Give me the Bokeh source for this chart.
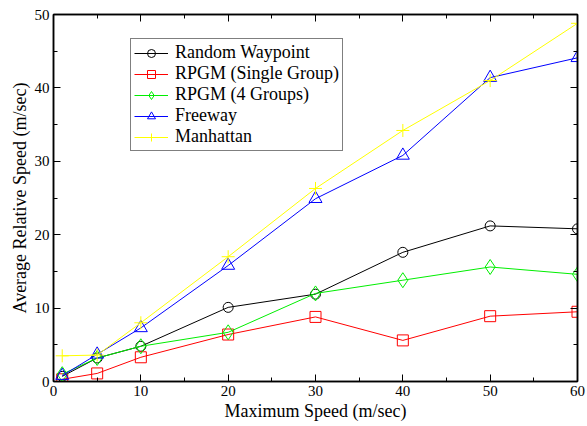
from bokeh.plotting import figure
from bokeh.models import Range1d, SingleIntervalTicker, LinearAxis, Legend, LegendItem, CustomJSTickFormatter
from bokeh.embed import file_html
from bokeh.resources import INLINE

speeds = [1, 5, 10, 20, 30, 40, 50, 60]
random_waypoint = [0.7, 3.2, 4.8, 10.1, 11.9, 17.6, 21.2, 20.8]
rpgm_single = [0.3, 1.1, 3.3, 6.4, 8.8, 5.6, 8.9, 9.5]
rpgm_four = [1.0, 3.2, 4.8, 6.7, 12.0, 13.8, 15.6, 14.6]
freeway = [0.8, 3.7, 7.3, 15.8, 24.9, 30.8, 41.4, 44.1]
manhattan = [3.5, 3.6, 8.0, 17.0, 26.3, 34.2, 41.0, 48.8]

series = [
    ("Random Waypoint", random_waypoint, "black", "circle", 10),
    ("RPGM (Single Group)", rpgm_single, "red", "square", 11),
    ("RPGM (4 Groups)", rpgm_four, "#00ee00", "diamond", 15),
    ("Freeway", freeway, "blue", "triangle", 13),
    ("Manhattan", manhattan, "yellow", "cross", 13),
]

FONT = "Liberation Serif"

p = figure(width=587, height=426, output_backend="svg", toolbar_location=None,
           x_range=Range1d(0, 60), y_range=Range1d(0, 50),
           min_border_left=53, min_border_right=10, min_border_top=14, min_border_bottom=45)
p.xgrid.visible = False
p.ygrid.visible = False
p.outline_line_color = "black"
p.outline_line_width = 1.5

def style_axis(ax, interval, show_labels=True):
    ax.ticker = SingleIntervalTicker(interval=interval, num_minor_ticks=2)
    ax.major_tick_in = 7
    ax.major_tick_out = 0
    ax.minor_tick_in = 4
    ax.minor_tick_out = 0
    ax.axis_line_color = "black"
    ax.axis_line_width = 1.5
    ax.major_tick_line_color = "black"
    ax.minor_tick_line_color = "black"
    ax.major_label_text_font = FONT
    ax.major_label_text_color = "black"
    ax.major_label_text_font_size = "15px"
    if show_labels:
        ax.major_label_standoff = 4
    else:
        ax.formatter = CustomJSTickFormatter(code="return '';")
        ax.major_label_standoff = 0

style_axis(p.xaxis[0], 10)
style_axis(p.yaxis[0], 10)
p.xaxis.axis_label = "Maximum Speed (m/sec)"
p.yaxis.axis_label = "Average Relative Speed (m/sec)"
for ax in (p.xaxis[0], p.yaxis[0]):
    ax.axis_label_text_font = FONT
    ax.axis_label_text_font_style = "normal"
    ax.axis_label_text_font_size = "18px"
    ax.axis_label_text_color = "black"
    ax.axis_label_standoff = 2

top = LinearAxis()
right = LinearAxis()
style_axis(top, 10, False)
style_axis(right, 10, False)
p.add_layout(top, "above")
p.add_layout(right, "right")

items = []
for name, vals, color, marker, size in series:
    l = p.line(speeds, vals, line_color=color, line_width=1)
    s = p.scatter(speeds, vals, marker=marker, size=size, line_color=color,
                  fill_color=None, line_width=1)
    items.append(LegendItem(label=name, renderers=[l, s]))

legend = Legend(items=items, location=(77, 230))
legend.label_text_font = FONT
legend.label_text_font_size = "18px"
legend.label_text_color = "black"
legend.border_line_color = "black"
legend.border_line_width = 1.5
legend.background_fill_color = "white"
legend.background_fill_alpha = 1
legend.glyph_width = 34
legend.glyph_height = 20
legend.label_height = 20
legend.spacing = 0
legend.padding = 3
legend.margin = 0
legend.label_standoff = 7
p.add_layout(legend, "center")

open("out.html", "w").write(file_html(p, INLINE))
